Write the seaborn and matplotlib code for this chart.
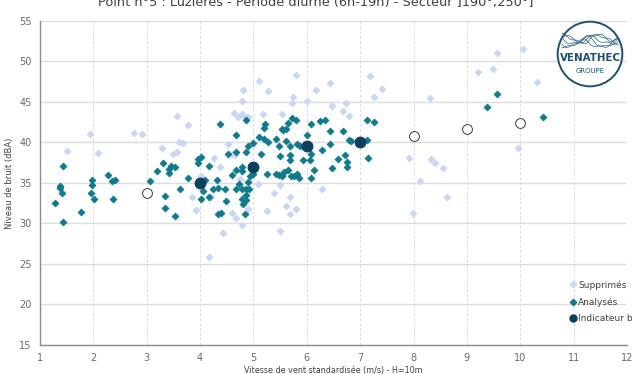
import numpy as np
import pandas as pd
import matplotlib
matplotlib.use("Agg")
import matplotlib.pyplot as plt
from matplotlib.patches import Circle
from matplotlib.lines import Line2D
import seaborn as sns

# Removed samples (wind speed m/s, noise level dBA)
supp_x = [1.51, 1.94, 2.09, 2.76, 2.91, 3.28, 3.49, 3.56, 3.56, 3.60, 3.68, 3.77, 3.84, 3.92,
          4.02, 4.27, 4.38, 4.20, 4.17, 5.10, 4.81, 4.79, 5.28, 5.79, 5.75, 5.72, 6.00, 6.18,
          6.44, 6.47, 6.73, 6.68, 6.79, 7.19, 7.41, 7.26, 4.64, 4.79, 4.83, 4.89, 4.71, 5.18,
          5.53, 4.53, 4.59, 4.65, 7.91, 7.99, 4.75, 5.09, 5.49, 5.39, 5.68, 5.61, 5.79, 5.68,
          5.25, 4.89, 4.60, 4.68, 4.78, 4.42, 5.49, 6.29, 9.56, 10.06, 9.20, 9.49, 10.31, 8.31,
          8.33, 8.41, 8.55, 8.13, 8.63, 9.95]
supp_y = [38.9, 41.0, 38.7, 41.1, 41.0, 39.3, 38.5, 38.8, 43.2, 40.0, 39.9, 42.1, 33.2, 31.6,
          35.9, 38.1, 37.0, 33.2, 25.8, 47.6, 46.4, 45.1, 46.3, 48.3, 45.6, 44.8, 45.1, 46.4,
          47.3, 44.5, 44.8, 43.9, 43.2, 48.2, 46.6, 45.6, 43.6, 43.5, 43.2, 43.1, 43.1, 43.5,
          43.5, 39.8, 38.5, 38.4, 38.1, 31.3, 35.5, 34.9, 34.7, 33.7, 33.3, 32.2, 31.8, 31.2,
          31.5, 31.8, 31.3, 30.7, 29.8, 28.8, 29.1, 34.3, 51.0, 51.5, 48.7, 49.1, 47.4, 45.5,
          37.9, 37.5, 36.8, 35.2, 33.2, 39.3]

# Analysed samples
ana_x = [1.29, 1.44, 1.37, 1.37, 1.41, 1.44, 1.76, 1.95, 1.98, 1.98, 2.02, 2.27, 2.34, 2.41,
         2.37, 3.06, 3.20, 3.30, 3.41, 3.41, 3.46, 3.53, 3.34, 3.34, 3.53, 3.63, 3.77, 3.96,
         4.02, 3.96, 4.17, 4.06, 4.02, 4.17, 4.25, 4.33, 4.32, 4.09, 4.34, 4.39, 4.38, 4.86,
         4.68, 4.53, 4.67, 4.86, 4.89, 5.00, 5.10, 5.19, 5.21, 5.14, 5.20, 5.28, 5.43, 5.47,
         5.50, 5.53, 5.56, 5.61, 5.64, 5.72, 5.79, 5.61, 5.68, 5.68, 5.68, 5.82, 5.88, 5.96,
         6.00, 6.08, 6.08, 6.06, 5.93, 6.14, 6.08, 5.86, 5.81, 5.76, 5.71, 5.64, 5.58, 5.53,
         5.48, 5.43, 5.25, 5.00, 4.93, 4.89, 4.86, 4.91, 4.78, 4.78, 4.68, 4.60, 4.68, 4.73,
         4.79, 4.78, 4.86, 4.86, 4.81, 4.85, 4.49, 4.46, 6.25, 6.34, 6.44, 6.68, 6.44, 6.29,
         6.58, 6.72, 6.76, 6.76, 6.48, 6.79, 6.83, 7.12, 7.26, 7.12, 7.15, 9.56, 9.38, 10.42]
ana_y = [32.5, 30.2, 34.6, 34.4, 33.8, 37.1, 31.4, 33.7, 34.7, 35.4, 33.0, 36.0, 35.2, 35.3,
         33.0, 35.2, 36.4, 37.5, 36.7, 36.2, 37.1, 36.9, 33.4, 31.9, 30.9, 34.2, 35.6, 38.0,
         38.2, 37.4, 37.1, 34.0, 33.0, 33.3, 34.2, 34.4, 35.3, 35.4, 31.2, 31.3, 42.3, 42.8,
         40.9, 38.6, 38.8, 38.8, 39.5, 39.9, 40.7, 41.8, 42.2, 38.5, 40.4, 40.0, 40.4, 39.6,
         38.3, 41.7, 41.5, 41.6, 42.4, 43.0, 42.8, 40.2, 39.5, 38.4, 37.8, 39.8, 39.5, 39.7,
         40.9, 42.2, 38.5, 37.8, 37.8, 36.6, 35.6, 35.6, 36.1, 35.8, 35.8, 36.6, 36.3, 35.9,
         36.0, 36.1, 36.1, 36.1, 35.8, 35.1, 34.3, 34.2, 37.0, 36.5, 36.6, 36.0, 34.2, 34.8,
         34.2, 33.0, 33.5, 32.9, 32.4, 31.1, 32.8, 34.2, 42.6, 42.7, 41.4, 41.4, 39.8, 39.1,
         38.0, 38.4, 37.6, 37.0, 36.8, 40.3, 40.2, 42.8, 42.5, 40.3, 38.1, 46.0, 44.3, 43.1]

# Noise indicator per wind-speed class
ind_x = [4, 5, 6, 7]
ind_y = [35.0, 36.9, 39.6, 40.0]

# Classes without a retained indicator
ext_x = [3, 8, 9, 10]
ext_y = [33.8, 40.8, 41.6, 42.4]

C_SUPP = "#c9d6f4"
C_ANA = "#0f7a8c"
C_IND = "#0c3f5e"
GRID = "#dcdcdc"
TXT = "#6a6a6a"

sns.set_style("white")
plt.rcParams["font.family"] = ["DejaVu Sans"]

fig = plt.figure(figsize=(6.32, 3.74), dpi=100)
ax = fig.add_axes([40 / 632, 1 - 345 / 374, 587 / 632, 324.3 / 374])

df_supp = pd.DataFrame({"x": supp_x, "y": supp_y})
df_ana = pd.DataFrame({"x": ana_x, "y": ana_y})
df_ind = pd.DataFrame({"x": ind_x, "y": ind_y})
df_ext = pd.DataFrame({"x": ext_x, "y": ext_y})

sns.scatterplot(data=df_supp, x="x", y="y", ax=ax, marker="D", s=12, color=C_SUPP,
                edgecolor=C_SUPP, linewidth=0.6, zorder=3, legend=False)
sns.scatterplot(data=df_ana, x="x", y="y", ax=ax, marker="D", s=12, color=C_ANA,
                edgecolor=C_ANA, linewidth=0.6, zorder=4, legend=False)
sns.scatterplot(data=df_ind, x="x", y="y", ax=ax, marker="o", s=60, color=C_IND,
                edgecolor=C_IND, linewidth=0.8, zorder=5, legend=False)
sns.scatterplot(data=df_ext, x="x", y="y", ax=ax, marker="o", s=50, facecolor="white",
                edgecolor="#3a3a3a", linewidth=0.7, zorder=5, legend=False)

ax.set_xlim(1, 12)
ax.set_ylim(15, 55)
ax.set_xticks(range(1, 13))
ax.set_yticks(range(15, 56, 5))

ax.grid(axis="y", color=GRID, linewidth=1.0, linestyle="-")
ax.grid(axis="x", color=GRID, linewidth=0.7, linestyle=(0, (3, 2)))
ax.set_axisbelow(True)

for side in ["top", "right"]:
    ax.spines[side].set_visible(False)
for side in ["left", "bottom"]:
    ax.spines[side].set_color("#8c8c8c")
    ax.spines[side].set_linewidth(1.0)

ax.tick_params(axis="both", direction="out", length=3, width=0.8, color="#8c8c8c",
               labelsize=7, labelcolor=TXT, pad=3)

ax.set_xlabel("Vitesse de vent standardisée (m/s) - H=10m", fontsize=5.8, color="#404040",
              labelpad=2)
ax.set_ylabel("Niveau de bruit (dBA)", fontsize=6, color="#404040", labelpad=4)

handles = [
    Line2D([], [], linestyle="none", marker="D", markersize=3.2, color=C_SUPP),
    Line2D([], [], linestyle="none", marker="D", markersize=3.2, color=C_ANA),
    Line2D([], [], linestyle="none", marker="o", markersize=5, color=C_IND),
]
leg = ax.legend(handles, ["Supprimés", "Analysés", "Indicateur bruit"],
                loc="upper left", bbox_to_anchor=(0.903, 0.2), frameon=False,
                fontsize=6.5, handlelength=0.6, handletextpad=0.3, labelspacing=0.85,
                borderpad=0, borderaxespad=0)
for t in leg.get_texts():
    t.set_color("#404040")

fig.text(0.5, 1 - 6 / 374, "Point n°5 : Luzières - Période diurne (6h-19h) - Secteur ]190°;250°]",
         ha="center", va="baseline", fontsize=9.3, color="#404040")

# Company badge in the top-right corner
lax = fig.add_axes([553 / 632, 1 - 88 / 374, 74 / 632, 68 / 374])
lax.set_xlim(-1.1, 1.1)
lax.set_ylim(-1.02, 1.02)
lax.set_aspect("equal")
lax.axis("off")
lax.add_patch(Circle((0, 0), 0.97, facecolor="white", edgecolor="#1d5272", linewidth=1.4))
t = np.linspace(-0.85, 0.85, 120)
for k, (amp, ph, off) in enumerate([(0.12, 0.0, 0.45), (0.10, 1.2, 0.40), (0.14, 2.1, 0.35),
                                    (0.09, 0.6, 0.50), (0.11, 2.8, 0.30)]):
    lax.plot(t, off + amp * np.sin(6 * t + ph) + 0.05 * np.sin(13 * t + k),
             color="#2b5f7c", linewidth=0.5)
lax.text(0, -0.12, "VENATHEC", ha="center", va="center", fontsize=7.4, fontweight="bold",
         color="#1d5272")
lax.text(0, -0.50, "GROUPE", ha="center", va="center", fontsize=5, color="#1d5272")

fig.savefig("out.png", dpi=100)
